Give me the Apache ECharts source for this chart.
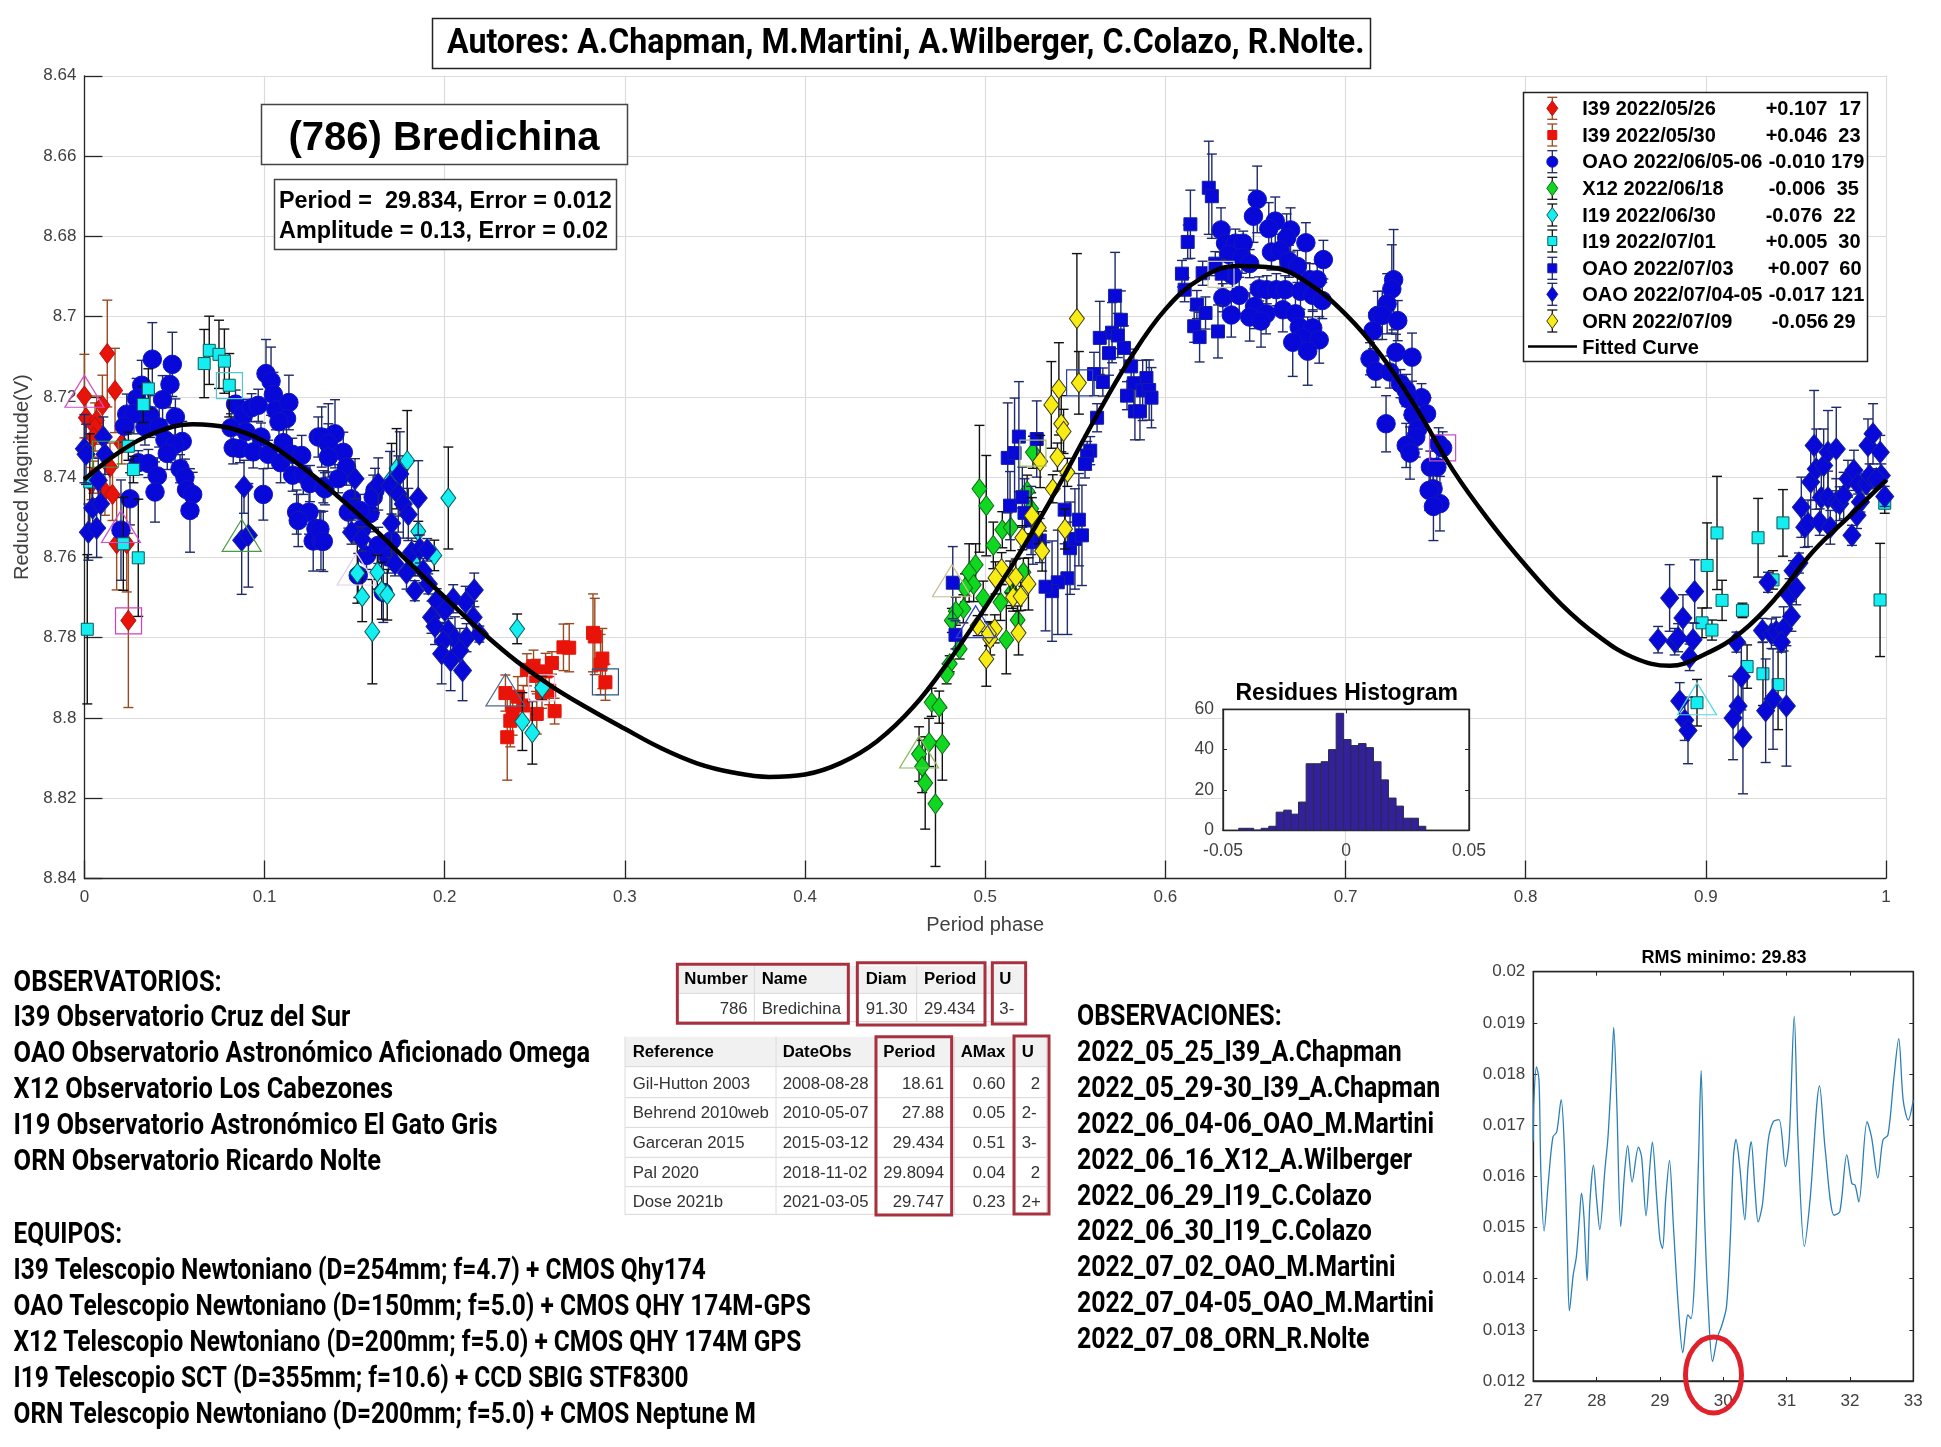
<!DOCTYPE html>
<html><head><meta charset="utf-8">
<style>html,body{margin:0;padding:0;background:#fff}#c{width:1941px;height:1447px}</style>
<script src="https://cdn.jsdelivr.net/npm/echarts@6/dist/echarts.min.js"></script>
</head><body><div id="c"></div>
<script>
// ---------- data: [phase, reduced magnitude, error] ----------
const i39Diamonds = [[.0127,8.7092,.0133],[.0170,8.7184,.0105],[.0,8.7198,.0104],[.01,8.7221,.0075],[.0009,8.7252,.005],[.0068,8.7258,.006],[.0059,8.7275,.006],[.005,8.73,.005],[.0207,8.7317,.005],[.0142,8.7375,.006],[.005,8.74,.004],[.004,8.7416,.004],[.0114,8.7435,.006],[.0156,8.7443,.0065],[.0179,8.7566,.0115],[.0235,8.7566,.012],[.0244,8.7757,.0217]];
const i39Squares = [[.2337,8.7938,.0045],[.2406,8.7947,.005],[.254,8.7936,.004],[.2436,8.7969,.005],[.2377,8.7988,.0055],[.2364,8.8007,.0065],[.2347,8.8048,.0107],[.2511,8.799,.005],[.261,8.7983,.0032],[.258,8.7932,.0035],[.2456,8.788,.004],[.2493,8.7871,.004],[.256,8.7884,.0045],[.2595,8.7863,.0028],[.2506,8.7894,.004],[.2659,8.7824,.0058],[.2691,8.7825,.006],[.2823,8.7788,.0097],[.2833,8.7797,.0095],[.2875,8.7852,.0075],[.2865,8.7867,.0075],[.2892,8.7911,.0045]];
const oaoCircles = [[.0377,8.7106,.0091],[.0488,8.7119,.008],[.0318,8.7171,.0062],[.0475,8.7169,.0058],[.0434,8.7207,.006],[.029,8.7204,.005],[.0235,8.7243,.005],[.0275,8.7242,.005],[.0364,8.7246,.0055],[.0222,8.7273,.004],[.0336,8.7275,.0045],[.0415,8.7275,.005],[.0505,8.725,.0045],[.0447,8.7307,.005],[.0543,8.7311,.005],[.0503,8.7319,.0045],[.046,8.7341,.004],[.0299,8.7364,.003],[.0355,8.7366,.0035],[.0405,8.7397,.0045],[.0531,8.7379,.0035],[.0558,8.74,.0045],[.0567,8.7431,.004],[.0601,8.7443,.0055],[.0586,8.7483,.0104],[.0392,8.7437,.0075],[.0253,8.7454,.0065],[.0203,8.7532,.0125],[.0839,8.7218,.0035],[.0882,8.7246,.004],[.0928,8.7227,.0035],[.0965,8.7221,.004],[.0814,8.7277,.0035],[.0897,8.7287,.0045],[.098,8.73,.0035],[.0826,8.7327,.004],[.0863,8.7329,.0035],[.0937,8.7337,.004],[.102,8.7343,.0035],[.1089,8.7364,.005],[.1104,8.7314,.004],[.1154,8.7343,.004],[.1206,8.7346,.005],[.1156,8.7395,.004],[.1215,8.7393,.005],[.1252,8.7416,.0045],[.1326,8.7424,.004],[.0993,8.7443,.0064],[.1008,8.7142,.0085],[.1036,8.7161,.0085],[.1049,8.7194,.0055],[.1063,8.7232,.005],[.1135,8.7214,.0068],[.1122,8.7254,.005],[.108,8.7262,.005],[.1298,8.73,.005],[.1354,8.7302,.0085],[.1178,8.7487,.0055],[.1247,8.7487,.0055],[.1187,8.7508,.0065],[.1285,8.7528,.0045],[.127,8.7559,.0075],[.1313,8.7559,.0072],[.1391,8.7292,.0085],[.1317,8.73,.0075],[.1354,8.7317,.005],[.1437,8.7338,.005],[.1354,8.735,.005],[.1455,8.7375,.0045],[.1409,8.7404,.0035],[.1335,8.7429,.004],[.1483,8.7454,.0045],[.1465,8.7487,.004],[.1585,8.7491,.0045],[.153,8.7483,.004],[.1539,8.7529,.0035],[.1705,8.7558,.0045],[.1631,8.757,.0045],[.1566,8.7595,.0035],[.1687,8.7599,.004],[.1613,8.7433,.0055],[.1603,8.745,.0055],[.1307,8.7529,.0045],[.1326,8.756,.0075],[.152,8.7645,.0055],[.1659,8.7687,.0075],[.651,8.6708,.0083],[.6489,8.675,.0065],[.661,8.6762,.006],[.6574,8.6781,.0065],[.6695,8.6784,.0055],[.6673,8.6804,.006],[.6309,8.6784,.0055],[.6334,8.6817,.004],[.6389,8.6817,.0035],[.6432,8.6817,.003],[.6351,8.6845,.004],[.6425,8.6852,.004],[.6468,8.6868,.0035],[.6372,8.6897,.004],[.6589,8.6839,.0045],[.6637,8.6835,.004],[.6686,8.6862,.004],[.6733,8.6875,.004],[.678,8.6816,.005],[.6877,8.6858,.0048],[.6801,8.6908,.004],[.6843,8.6908,.004],[.6521,8.6931,.003],[.6563,8.6933,.0035],[.6616,8.6933,.004],[.6665,8.6933,.0035],[.675,8.6937,.0045],[.6818,8.6947,.004],[.6871,8.696,.0045],[.6319,8.6953,.0035],[.641,8.6947,.0045],[.6495,8.6975,.0055],[.6559,8.6993,.005],[.6652,8.6983,.0055],[.6722,8.6993,.0055],[.6366,8.6996,.0055],[.6468,8.7001,.006],[.6531,8.7011,.0065],[.6743,8.7026,.0045],[.6818,8.7028,.0045],[.6765,8.7053,.004],[.6854,8.7058,.0058],[.6707,8.7064,.0085],[.679,8.7086,.0085],[.7267,8.6908,.0125],[.7257,8.6931,.011],[.7231,8.6968,.0075],[.7178,8.6997,.006],[.7204,8.6997,.006],[.729,8.701,.005],[.7153,8.7035,.0045],[.7136,8.7105,.004],[.728,8.7089,.0045],[.7369,8.7101,.006],[.7168,8.7136,.004],[.7246,8.7138,.004],[.7305,8.7167,.0035],[.7337,8.7184,.004],[.7422,8.7202,.0035],[.7348,8.7205,.004],[.7375,8.7244,.004],[.745,8.7242,.004],[.7225,8.7267,.007],[.7401,8.728,.005],[.739,8.73,.005],[.7337,8.7321,.0055],[.7358,8.734,.0065],[.7517,8.7317,.004],[.7539,8.7327,.004],[.7471,8.7375,.004],[.7507,8.7375,.004],[.7486,8.7429,.004],[.7464,8.7433,.005],[.7524,8.7466,.0068],[.7488,8.7473,.0085]];
const x12Diamonds = [[.4968,8.7429,.0158],[.5006,8.7471,.0125],[.5045,8.757,.0058],[.5095,8.7531,.0045],[.5142,8.7525,.0058],[.5265,8.7338,.004],[.5233,8.7435,.004],[.5255,8.7479,.004],[.4947,8.7618,.0052],[.4911,8.7638,.0072],[.4936,8.7668,.0042],[.4888,8.7676,.0035],[.5212,8.7637,.0035],[.5148,8.7687,.004],[.4989,8.7701,.0042],[.5085,8.7712,.0045],[.4879,8.7728,.0035],[.4837,8.7734,.0035],[.4815,8.7757,.003],[.518,8.7756,.0035],[.5117,8.7805,.0085],[.4858,8.7828,.0025],[.4803,8.7865,.002],[.4786,8.789,.0025],[.4703,8.7961,.0035],[.4745,8.7973,.004],[.4762,8.8065,.009],[.4688,8.8061,.006],[.4633,8.809,.0068],[.465,8.8121,.0065],[.4667,8.8162,.0115],[.4724,8.8214,.0156]];
const i19Diamonds = [[.1792,8.7359,.0125],[.1705,8.7404,.0088],[.1733,8.7379,.01],[.202,8.7452,.0127],[.1853,8.7535,.0025],[.1942,8.7595,.0038],[.1626,8.7637,.0042],[.1515,8.7639,.0075],[.1542,8.7698,.0062],[.1598,8.7785,.013],[.165,8.7683,.0071],[.1681,8.7693,.0063],[.2402,8.7778,.0037],[.2541,8.7925,.003],[.2431,8.8009,.0072],[.2486,8.8037,.0078],[.1835,8.7616,.003]];
const i19Squares = [[.9062,8.7539,.0141],[.9007,8.762,.0106],[.909,8.7707,.005],[.8979,8.7763,.0037],[.9034,8.7781,.0025],[.8951,8.7962,.0058],[.9203,8.7732,.0018],[.9229,8.7872,.0054],[.9317,8.789,.0079],[.9401,8.7917,.0112],[.929,8.7551,.0098],[.9428,8.7514,.0083],[.9373,8.7656,.0023],[.9967,8.7706,.0141],[.9993,8.7465,.0025],[.0016,8.7779,.0186],[.0299,8.7601,.0146],[.0216,8.7566,.0116],[.0272,8.7381,.0033],[.0244,8.7323,.0035],[.0355,8.718,.005],[.0327,8.7219,.0045],[.003,8.7412,.012],[.0665,8.7117,.0085],[.0693,8.7084,.0085],[.0747,8.7094,.0085],[.0777,8.7111,.008],[.0804,8.7171,.0079]];
const oaoSquares = [[.6241,8.6679,.0116],[.6258,8.67,.0105],[.6139,8.677,.0085],[.6124,8.6814,.0042],[.6092,8.6893,.0033],[.6107,8.6933,.003],[.6207,8.6892,.003],[.6277,8.6868,.003],[.6313,8.6893,.0035],[.6175,8.697,.0035],[.6223,8.6991,.004],[.616,8.7024,.004],[.619,8.7051,.0062],[.6292,8.7037,.0066],[.5721,8.6948,.0108],[.5753,8.7008,.0072],[.5704,8.704,.0075],[.5736,8.7047,.0055],[.5636,8.7053,.0091],[.577,8.7078,.0055],[.5687,8.7091,.0055],[.581,8.7124,.0035],[.5604,8.7143,.0054],[.5653,8.7163,.0035],[.5895,8.7153,.0045],[.5825,8.7166,.0085],[.5874,8.7184,.0075],[.591,8.7183,.0075],[.5923,8.7202,.0075],[.5787,8.7197,.0035],[.5831,8.7236,.0071],[.5859,8.7236,.0071],[.5621,8.7252,.0035],[.5583,8.7334,.0035],[.5566,8.7346,.0035],[.5554,8.7367,.0035],[.5187,8.7299,.0137],[.5286,8.7305,.0095],[.5125,8.7352,.0137],[.5163,8.734,.0137],[.5138,8.7471,.0085],[.5206,8.745,.0075],[.5218,8.7489,.0085],[.5255,8.7508,.0085],[.5265,8.7562,.0055],[.5303,8.7558,.0055],[.5441,8.7481,.0085],[.552,8.7506,.0115],[.5471,8.7577,.0115],[.5498,8.7554,.0125],[.5537,8.7545,.0125],[.5456,8.7652,.014],[.5403,8.7662,.013],[.5371,8.7684,.0125],[.5335,8.7673,.011],[.482,8.7663,.009],[.4835,8.7793,.0035]];
const oaoDiamonds = [[.0,8.7329,.0085],[.0009,8.7343,.0075],[.0105,8.73,.005],[.0114,8.7343,.005],[.0077,8.7408,.0055],[.0046,8.7477,.006],[.009,8.7466,.0062],[.0022,8.7537,.007],[.0068,8.7527,.0073],[.0886,8.7424,.0066],[.0873,8.7557,.0135],[.091,8.7545,.0129],[.1502,8.7404,.005],[.1631,8.7417,.0065],[.1705,8.7515,.0085],[.1751,8.7392,.0105],[.1696,8.7421,.0085],[.1742,8.7442,.0095],[.177,8.7467,.0085],[.1798,8.7493,.0065],[.1853,8.7452,.0093],[.1483,8.7537,.003],[.1539,8.7554,.003],[.1816,8.7587,.0035],[.1862,8.7579,.0035],[.1903,8.7581,.0028],[.1724,8.7616,.003],[.1788,8.7639,.004],[.1881,8.7633,.003],[.1834,8.7683,.0025],[.1909,8.7666,.0025],[.1955,8.7708,.003],[.2001,8.7732,.003],[.2047,8.7703,.0035],[.2116,8.7712,.004],[.2164,8.7681,.0042],[.2158,8.7749,.004],[.1927,8.7749,.004],[.1946,8.7772,.0045],[.202,8.7782,.003],[.2057,8.7803,.0055],[.2121,8.78,.0035],[.2192,8.7791,.002],[.1992,8.7809,.003],[.1983,8.784,.0075],[.2084,8.7832,.0055],[.2033,8.7857,.0075],[.2099,8.7882,.0075],[.8735,8.7805,.0033],[.8799,8.7701,.0083],[.8873,8.7751,.0058],[.8938,8.7685,.0079],[.8827,8.781,.0033],[.8846,8.78,.0035],[.8929,8.7805,.0042],[.891,8.7849,.0033],[.8855,8.7958,.0046],[.8883,8.8006,.005],[.8901,8.8031,.0083],[.917,8.7811,.0025],[.9197,8.7897,.0083],[.9179,8.797,.0079],[.9151,8.8,.0104],[.9206,8.8048,.0141],[.9314,8.7782,.003],[.9364,8.779,.0037],[.9391,8.7784,.0035],[.9432,8.7778,.0055],[.9419,8.7811,.0025],[.9475,8.7747,.0037],[.9465,8.7695,.0042],[.9502,8.7676,.0042],[.9484,8.7633,.0025],[.9517,8.7614,.0025],[.9345,8.7662,.0025],[.9373,8.7953,.0125],[.9332,8.7982,.0129],[.9447,8.797,.015],[.953,8.7475,.0075],[.9549,8.7525,.005],[.9567,8.7515,.0058],[.9632,8.7512,.0033],[.9691,8.7525,.0042],[.9582,8.7412,.0091],[.9601,8.7321,.0137],[.9613,8.738,.01],[.9654,8.7371,.0091],[.9678,8.7338,.0104],[.9724,8.733,.0104],[.9641,8.7451,.0066],[.9678,8.7451,.0066],[.9724,8.7462,.0058],[.9743,8.7466,.0042],[.9765,8.7446,.0058],[.9789,8.7404,.0046],[.9822,8.7383,.005],[.9811,8.7545,.0025],[.9839,8.7495,.0033],[.9858,8.7462,.0025],[.9845,8.7417,.0025],[.9891,8.7417,.0025],[.9909,8.7396,.0029],[.99,8.7321,.0066],[.9928,8.7292,.0075],[.9968,8.7338,.0042],[.9974,8.7396,.0029],[.9946,8.7404,.0025],[.9993,8.7448,.0025]];
const ornDiamonds = [[.5509,8.7005,.0162],[.552,8.7165,.0078],[.5409,8.718,.0115],[.5367,8.722,.0108],[.5422,8.7267,.007],[.5435,8.7286,.0055],[.5401,8.735,.0035],[.5305,8.7361,.0065],[.5456,8.7388,.0035],[.5375,8.7429,.0035],[.5259,8.7496,.0045],[.5297,8.7526,.004],[.5206,8.7551,.003],[.5443,8.7529,.005],[.5316,8.7584,.005],[.5091,8.7628,.004],[.5057,8.7651,.004],[.5138,8.7649,.004],[.517,8.7649,.0045],[.524,8.7666,.0065],[.5155,8.7699,.0035],[.5197,8.7697,.0035],[.5053,8.7778,.0035],[.5028,8.7803,.004],[.4958,8.777,.0025],[.5021,8.779,.003],[.5185,8.7788,.0055],[.5006,8.7853,.0068]];
const fitPhase = [0,.02,.04,.06,.08,.1,.12,.14,.16,.18,.2,.22,.24,.26,.28,.3,.32,.34,.36,.38,.4,.42,.44,.46,.48,.5,.52,.54,.56,.58,.6,.62,.64,.66,.68,.7,.72,.74,.76,.78,.8,.82,.84,.86,.88,.9,.92,.94,.96,.98,1];
const fitMag = [8.7406,8.7336,8.7288,8.7268,8.7277,8.7311,8.7372,8.7445,8.7525,8.7612,8.7699,8.7783,8.7859,8.7923,8.7977,8.8027,8.8075,8.8113,8.8136,8.8147,8.8141,8.8112,8.8058,8.7973,8.7857,8.7725,8.7583,8.7428,8.7262,8.7108,8.6982,8.6904,8.6874,8.6878,8.6919,8.6994,8.7098,8.7233,8.7385,8.751,8.762,8.7718,8.7795,8.785,8.787,8.784,8.7785,8.7695,8.7583,8.7496,8.7408];
const startMarks = [[0,8.7186],[.0203,8.7523],[.0873,8.7545],[.1511,8.7629],[.2337,8.793],[.4815,8.7658],[.4947,8.776],[.4633,8.8085],[.8951,8.7952]];
const endMarks = [[.0117,8.7343],[.0805,8.7172],[.0245,8.7758],[.2538,8.7925],[.2892,8.791],[.5524,8.7165],[.5265,8.734],[.6309,8.6895],[.7539,8.7327]];
const histBins = [-.0436,-.0406,-.0375,-.0345,-.0314,-.0284,-.0253,-.0223,-.0193,-.0162,-.0132,-.0101,-.0071,-.004,-.001,.002,.0051,.0081,.0112,.0142,.0173,.0203,.0233,.0264,.0294];
const histCounts = [1,1,0,1,2,9,10,8,14,33,33,34,40,58,45,42,43,41,34,25,16,12,6,6,2];
const histBinWidth = .00305;
const rmsPeriod = [27,27.01,27.05,27.09,27.12,27.17,27.24,27.31,27.37,27.44,27.49,27.54,27.57,27.63,27.68,27.73,27.76,27.8,27.85,27.89,27.95,28,28.05,28.13,28.18,28.24,28.27,28.32,28.38,28.44,28.49,28.56,28.66,28.71,28.78,28.84,28.88,28.95,29,29.04,29.09,29.15,29.21,29.29,29.36,29.41,29.44,29.49,29.55,29.61,29.65,29.7,29.76,29.83,29.91,29.97,30.05,30.11,30.16,30.2,30.26,30.34,30.39,30.44,30.5,30.55,30.62,30.71,30.79,30.88,30.98,31.04,31.12,31.18,31.28,31.37,31.52,31.61,31.75,31.84,31.95,32.03,32.08,32.14,32.27,32.34,32.44,32.52,32.6,32.69,32.77,32.84,32.92,33];
const rmsValue = [.01668,.01749,.01814,.01788,.01606,.01493,.01593,.01677,.01687,.0175,.01658,.01443,.01337,.01407,.01443,.01521,.01567,.01521,.01396,.01541,.01622,.01554,.01496,.01612,.01678,.01814,.01891,.01736,.01502,.01606,.0166,.01589,.01657,.01638,.01523,.01619,.01667,.01554,.01476,.01459,.01554,.01631,.01508,.01345,.01255,.01306,.01329,.01322,.0141,.01638,.01807,.01541,.01352,.01238,.01287,.01306,.01345,.01476,.01638,.01672,.01619,.01515,.01619,.01668,.01573,.01511,.01547,.01671,.01707,.01711,.01619,.01671,.01913,.01671,.01463,.01554,.01777,.01651,.01524,.01531,.01642,.01586,.01583,.0155,.01707,.01677,.01597,.01671,.01681,.01788,.01869,.01749,.0171,.01749];
const legendNames = ['I39 2022/05/26','I39 2022/05/30','OAO 2022/06/05-06','X12 2022/06/18','I19 2022/06/30','I19 2022/07/01','OAO 2022/07/03','OAO 2022/07/04-05','ORN 2022/07/09'];
const legendOffsets = ['+0.107','+0.046','-0.010','-0.006','-0.076','+0.005','+0.007','-0.017','-0.056'];
const legendCounts = ['17','23','179','35','22','30','60','121','29'];
const observatorios = ['OBSERVATORIOS:','I39 Observatorio Cruz del Sur','OAO Observatorio Astronómico Aficionado Omega','X12 Observatorio Los Cabezones','I19 Observatorio Astronómico El Gato Gris','ORN Observatorio Ricardo Nolte'];
const equipos = ['EQUIPOS:','I39 Telescopio Newtoniano (D=254mm; f=4.7) + CMOS Qhy174','OAO Telescopio Newtoniano (D=150mm; f=5.0) + CMOS QHY 174M-GPS','X12 Telescopio Newtoniano (D=200mm; f=5.0) + CMOS QHY 174M GPS','I19 Telescopio SCT (D=355mm; f=10.6) + CCD SBIG STF8300','ORN Telescopio Newtoniano (D=200mm; f=5.0) + CMOS Neptune M'];
const observaciones = ['OBSERVACIONES:','2022_05_25_I39_A.Chapman','2022_05_29-30_I39_A.Chapman','2022_06_04-06_OAO_M.Martini','2022_06_16_X12_A.Wilberger','2022_06_29_I19_C.Colazo','2022_06_30_I19_C.Colazo','2022_07_02_OAO_M.Martini','2022_07_04-05_OAO_M.Martini','2022_07_08_ORN_R.Nolte'];
const table1Head = ['Number','Name','Diam','Period','U'];
const table1Row = ['786','Bredichina','91.30','29.434','3-'];
const table2Head = ['Reference','DateObs','Period','AMax','U'];
const table2Rows = [['Gil-Hutton 2003','2008-08-28','18.61','0.60','2'],['Behrend 2010web','2010-05-07','27.88','0.05','2-'],['Garceran 2015','2015-03-12','29.434','0.51','3-'],['Pal 2020','2018-11-02','29.8094','0.04','2'],['Dose 2021b','2021-03-05','29.747','0.23','2+']];

// ---------- styles ----------
const sets = [
 {d:i39Diamonds,sym:'diamond',size:[15,20],fill:'#e8140a',edge:'#c01010',bar:'#9a4a20'},
 {d:i39Squares,sym:'rect',size:[13,13],fill:'#e8140a',edge:'#e8140a',bar:'#9a4a20'},
 {d:oaoCircles,sym:'circle',size:18.5,fill:'#0808d8',edge:'#1018c0',bar:'#1f2a6a'},
 {d:x12Diamonds,sym:'diamond',size:[15,20],fill:'#10d820',edge:'#0a6a14',bar:'#111'},
 {d:i19Diamonds,sym:'diamond',size:[15,20],fill:'#14eef0',edge:'#0a5a5a',bar:'#111'},
 {d:i19Squares,sym:'rect',size:[12,12],fill:'#14eef0',edge:'#0a5a5a',bar:'#111'},
 {d:oaoSquares,sym:'rect',size:[13,13],fill:'#0808d8',edge:'#1420a0',bar:'#1f2a6a'},
 {d:oaoDiamonds,sym:'diamond',size:[18,22],fill:'#0808d8',edge:'#1420a0',bar:'#1f2a6a'},
 {d:ornDiamonds,sym:'diamond',size:[15,20],fill:'#f8ec14',edge:'#3a3a10',bar:'#111'}];
const startColors = ['#d050c8','#d050d0','#4a9a40','#e4cfea','#50688a','#c8c090','#3040c0','#90b860','#50d8e0'];
const endColors = ['#40a040','#50c8d0','#d040c0','#ecc8e8','#2a5a8a','#2840a8','#a8c060','#c8c8a8','#c850c0'];
const ARIAL = '"Liberation Sans", Arial, sans-serif';
const COND = 'Roboto, "Liberation Sans", sans-serif';

function errSeries(set, i){
  return {type:'custom',xAxisIndex:0,yAxisIndex:0,z:10+2*i,silent:true,clip:false,animation:false,
    encode:{x:0,y:1},data:set.d,
    renderItem(p,api){
      const x=api.value(0),y=api.value(1),e=api.value(2);
      const a=api.coord([x,y-e]),b=api.coord([x,y+e]),w=5;
      const st={stroke:set.bar,lineWidth:1.4,fill:null};
      return {type:'group',children:[
        {type:'line',shape:{x1:a[0],y1:a[1],x2:b[0],y2:b[1]},style:st},
        {type:'line',shape:{x1:a[0]-w,y1:a[1],x2:a[0]+w,y2:a[1]},style:st},
        {type:'line',shape:{x1:b[0]-w,y1:b[1],x2:b[0]+w,y2:b[1]},style:st}]};
    }};
}
function markSeries(set,i){
  return {name:legendNames[i],type:'scatter',xAxisIndex:0,yAxisIndex:0,z:11+2*i,silent:true,clip:false,animation:false,
    data:set.d.map(p=>[p[0],p[1]]),symbol:set.sym,symbolSize:set.size,
    itemStyle:{color:set.fill,borderColor:set.edge,borderWidth:1,opacity:1}};
}
function openSeries(d,sym,size,colors){
  return {type:'scatter',xAxisIndex:0,yAxisIndex:0,z:32,silent:true,clip:false,animation:false,
    data:d.map((p,i)=>({value:p,itemStyle:{borderColor:colors[i]}})),symbol:sym,symbolSize:size,
    itemStyle:{color:'rgba(0,0,0,0)',borderWidth:1.2,opacity:1}};
}
const series=[];
sets.forEach((s,i)=>{series.push(errSeries(s,i));series.push(markSeries(s,i));});
series.push(openSeries(startMarks,'triangle',[39,32],startColors));
series.push(openSeries(endMarks,'rect',[26,26],endColors));
series.push({name:'Fitted Curve',type:'line',xAxisIndex:0,yAxisIndex:0,z:34,silent:true,animation:false,
  data:fitPhase.map((p,i)=>[p,fitMag[i]]),smooth:.4,showSymbol:false,symbol:'none',lineStyle:{color:'#000',width:4.5}});
series.push({type:'custom',xAxisIndex:1,yAxisIndex:1,z:8,silent:true,animation:false,encode:{x:0,y:1},
  data:histBins.map((b,i)=>[b,histCounts[i]]),
  renderItem(p,api){
    const a=api.coord([api.value(0),api.value(1)]),b=api.coord([api.value(0)+histBinWidth,0]);
    return {type:'rect',shape:{x:a[0],y:a[1],width:b[0]-a[0],height:b[1]-a[1]},style:{fill:'#33209b',stroke:'#2a2a4a',lineWidth:1}};
  }});
series.push({type:'line',xAxisIndex:3,yAxisIndex:3,z:8,silent:true,animation:false,
  data:rmsPeriod.map((p,i)=>[p,rmsValue[i]]),smooth:.3,showSymbol:false,symbol:'none',lineStyle:{color:'#2a7fb8',width:1.3}});

// ---------- graphic layer ----------
const g=[];
function T(text,x,y,font,opt){opt=opt||{};g.push({type:'text',z:60,silent:true,x,y,scaleX:opt.sx||1,style:{text,font,fill:opt.fill||'#000',textAlign:opt.align||'left',textVerticalAlign:'middle'}});}
function R(x,y,w,h,fill,stroke,lw,z){g.push({type:'rect',z:z||55,silent:true,shape:{x,y,width:w,height:h},style:{fill:fill||'none',stroke:stroke||'none',lineWidth:lw||1}});}
function L(a,b,c,d,stroke,lw,z){g.push({type:'line',z:z||57,silent:true,shape:{x1:a,y1:b,x2:c,y2:d},style:{stroke,lineWidth:lw||1}});}

R(432.5,18.5,938,50,'#fff','#222',1.5);
T('Autores: A.Chapman, M.Martini, A.Wilberger, C.Colazo, R.Nolte.',447,44,'bold 35px '+COND,{sx:.918});
R(261.5,104.5,366,60,'#fff','#444',1.5);
T('(786) Bredichina',444,139,'bold 40px '+ARIAL,{align:'center'});
R(274.5,179.5,342,70,'#fff','#444',1.5);
T('Period =  29.834, Error = 0.012',279,201.5,'bold 23.4px '+ARIAL);
T('Amplitude = 0.13, Error = 0.02',279,231.5,'bold 23.4px '+ARIAL);

// legend
R(1523.5,92.5,344,269,'#fff','#222',1.5);
const rowY=[109.3,136,162.7,189.3,216,242,269.3,295.3,322,348.7];
const valX=[797,797,806,806,797,797,803,806,815];
const cntX=[1017,1015,993,1010,1000,1015,1018,993,1000];
legendNames.forEach((n,i)=>{
  const y=rowY[i],s=sets[i],cx=1552.3;
  T(n,1582.3,y,'bold 20px '+ARIAL);
  T(legendOffsets[i],1500+valX[i]/3,y,'bold 20px '+ARIAL);
  T(legendCounts[i],1500+cntX[i]/3,y,'bold 20px '+ARIAL);
  const m=y-1;
  L(cx,m-11,cx,m+11,s.bar,1.3,57);L(cx-5,m-11,cx+5,m-11,s.bar,1.3,57);L(cx-5,m+11,cx+5,m+11,s.bar,1.3,57);
  const st={fill:s.fill,stroke:s.edge,lineWidth:1};
  if(s.sym==='circle') g.push({type:'circle',z:58,silent:true,shape:{cx,cy:m,r:5.5},style:st});
  else if(s.sym==='rect') g.push({type:'rect',z:58,silent:true,shape:{x:cx-4.5,y:m-4.5,width:9,height:9},style:st});
  else g.push({type:'polygon',z:58,silent:true,shape:{points:[[cx,m-7.5],[cx+5.5,m],[cx,m+7.5],[cx-5.5,m]]},style:st});
});
L(1528,346.5,1577,346.5,'#000',2.5,57);
T('Fitted Curve',1582.3,rowY[9],'bold 20px '+ARIAL);

// titles of the inset plots
T('Residues Histogram',1346.7,694,'bold 23px '+ARIAL,{align:'center'});
T('RMS minimo: 29.83',1724,958,'bold 18px '+ARIAL,{align:'center'});
g.push({type:'ellipse',z:59,silent:true,shape:{cx:1713.5,cy:1375,rx:28,ry:38},style:{fill:'none',stroke:'#e0202a',lineWidth:5}});

// text blocks
const BIG='bold 30px '+COND;
observatorios.forEach((t,i)=>T(t,13.6,983+i*35.9,BIG,{sx:.848}));
equipos.forEach((t,i)=>T(t,13.6,1235.5+i*35.9,BIG,{sx:.815}));
observaciones.forEach((t,i)=>T(t,1077,1017.5+i*35.9,BIG,{sx:.83}));

// tables
const tx=z=>620+z/3, ty=z=>950+z/3;
const REG='16.8px '+ARIAL, BLD='bold 16.8px '+ARIAL, TXT='#333';
R(tx(175),ty(48),(1215-175)/3,(130-48)/3,'#f1f1f1',null,1,50);
[130,215].forEach(y=>L(tx(175),ty(y),tx(1215),ty(y),'#d8d8d8',1,51));
[403,890].forEach(x=>L(tx(x),ty(48),tx(x),ty(215),'#d8d8d8',1,51));
const h1X=[193,425,737,912,1138], r1X=[383,425,737,912,1138];
table1Head.forEach((t,i)=>T(t,tx(h1X[i]),ty(89),BLD));
table1Row.forEach((t,i)=>T(t,tx(r1X[i]),ty(178),REG,{align:i===0?'right':'left',fill:TXT}));
[[172,43,685,220],[712,38,1095,225],[1117,38,1217,222]].forEach(b=>R(tx(b[0]),ty(b[1]),(b[2]-b[0])/3,(b[3]-b[1])/3,'none','#a8303f',3,54));
R(tx(15),ty(260),(1280-15)/3,(350-260)/3,'#f1f1f1',null,1,50);
const rowLines=[350,443,532,622,710,793];
rowLines.forEach(y=>L(tx(15),ty(y),tx(1280),ty(y),'#d8d8d8',1,51));
[15,468,765,1003,1185,1280].forEach(x=>L(tx(x),ty(260),tx(x),ty(793),'#dcdcdc',1,51));
const h2X=[38,488,790,1022,1205];
table2Head.forEach((t,i)=>T(t,tx(h2X[i]),ty(308),BLD));
const rowC=[403,490,580,670,757];
table2Rows.forEach((r,j)=>{
  T(r[0],tx(38),ty(rowC[j]),REG,{fill:TXT});
  T(r[1],tx(488),ty(rowC[j]),REG,{fill:TXT});
  T(r[2],tx(972),ty(rowC[j]),REG,{fill:TXT,align:'right'});
  T(r[3],tx(1156),ty(rowC[j]),REG,{fill:TXT,align:'right'});
  if(r[4].length>1) T(r[4],tx(1205),ty(rowC[j]),REG,{fill:TXT});
  else T(r[4],tx(1260),ty(rowC[j]),REG,{fill:TXT,align:'right'});
});
[[768,260,995,795],[1182,258,1287,792]].forEach(b=>R(tx(b[0]),ty(b[1]),(b[2]-b[0])/3,(b[3]-b[1])/3,'none','#a8303f',3,54));

// ---------- axes ----------
const tickLab={color:'#404040',fontFamily:'"Liberation Sans",Arial,sans-serif',fontSize:17};
function px(l,t,r,b){return {left:l,top:t,width:r-l,height:b-t};}
const dark={show:true,lineStyle:{color:'#262626',width:1.3}};
const noLab={show:false};
const yPad={padding:[3,0,0,0]};
const option={
  backgroundColor:'#fff',animation:false,
  grid:[
    Object.assign(px(84.4,75.8,1886,878.5),{show:false,z:0}),
    Object.assign(px(1223,709.3,1469,830.3),{show:true,backgroundColor:'#fff',borderColor:'#262626',borderWidth:1.3,z:5}),
    Object.assign(px(1533.3,971.7,1913.3,1381),{show:true,backgroundColor:'#fff',borderColor:'#262626',borderWidth:1.3,z:5})
  ],
  xAxis:[
    {gridIndex:0,type:'value',min:0,max:1,interval:.1,position:'bottom',name:'Period phase',nameLocation:'middle',nameGap:37,
     nameTextStyle:{fontFamily:tickLab.fontFamily,fontSize:20,color:'#404040'},
     axisLine:Object.assign({onZero:false},dark),axisTick:{inside:true,length:18,lineStyle:{color:'#262626',width:1.3}},
     axisLabel:Object.assign({margin:10},tickLab),splitLine:{show:true,lineStyle:{color:'#dcdcdc',width:1.2}}},
    {gridIndex:1,type:'value',min:-.05,max:.05,interval:.05,position:'bottom',z:6,axisLine:Object.assign({onZero:false},dark),
     axisTick:{inside:true,length:4,lineStyle:{color:'#262626'}},axisLabel:Object.assign({margin:12},tickLab,{fontSize:17.5}),splitLine:noLab},
    {gridIndex:1,type:'value',min:-.05,max:.05,interval:.05,position:'top',z:6,axisLine:Object.assign({onZero:false},dark),
     axisTick:{inside:true,length:4,lineStyle:{color:'#262626'}},axisLabel:noLab,splitLine:noLab},
    {gridIndex:2,type:'value',min:27,max:33,interval:1,position:'bottom',z:6,axisLine:Object.assign({onZero:false},dark),
     axisTick:{inside:true,length:4,lineStyle:{color:'#262626'}},axisLabel:Object.assign({margin:12},tickLab),splitLine:noLab},
    {gridIndex:2,type:'value',min:27,max:33,interval:1,position:'top',z:6,axisLine:Object.assign({onZero:false},dark),
     axisTick:{inside:true,length:4,lineStyle:{color:'#262626'}},axisLabel:noLab,splitLine:noLab}
  ],
  yAxis:[
    {gridIndex:0,type:'value',inverse:true,min:8.64,max:8.84,interval:.02,position:'left',name:'Reduced Magnitude(V)',nameLocation:'middle',nameGap:47,
     nameTextStyle:{fontFamily:tickLab.fontFamily,fontSize:20,color:'#404040'},
     axisLine:Object.assign({onZero:false},dark),axisTick:{inside:true,length:18,lineStyle:{color:'#262626',width:1.3}},
     axisLabel:Object.assign({margin:8},tickLab,yPad),splitLine:{show:true,lineStyle:{color:'#dcdcdc',width:1.2}}},
    {gridIndex:1,type:'value',min:0,max:60,interval:20,position:'left',z:6,axisLine:Object.assign({onZero:false},dark),
     axisTick:{inside:true,length:4,lineStyle:{color:'#262626'}},axisLabel:Object.assign({margin:9},tickLab,{fontSize:17.5},yPad),splitLine:noLab},
    {gridIndex:1,type:'value',min:0,max:60,interval:20,position:'right',z:6,axisLine:Object.assign({onZero:false},dark),
     axisTick:{inside:true,length:4,lineStyle:{color:'#262626'}},axisLabel:noLab,splitLine:noLab},
    {gridIndex:2,type:'value',min:.012,max:.02,interval:.001,position:'left',z:6,axisLine:Object.assign({onZero:false},dark),
     axisTick:{inside:true,length:4,lineStyle:{color:'#262626'}},axisLabel:Object.assign({margin:8},tickLab,yPad),splitLine:noLab},
    {gridIndex:2,type:'value',min:.012,max:.02,interval:.001,position:'right',z:6,axisLine:Object.assign({onZero:false},dark),
     axisTick:{inside:true,length:4,lineStyle:{color:'#262626'}},axisLabel:noLab,splitLine:noLab}
  ],
  series,
  graphic:g
};
const chart=echarts.init(document.getElementById('c'),null,{renderer:'canvas',width:1941,height:1447});
chart.setOption(option);
</script></body></html>
